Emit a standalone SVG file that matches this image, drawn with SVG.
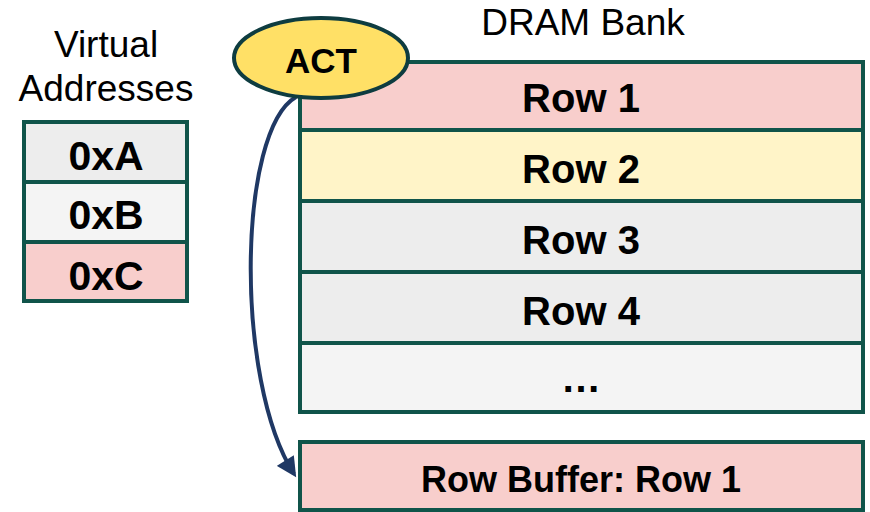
<svg xmlns="http://www.w3.org/2000/svg" width="870" height="512" viewBox="0 0 870 512">
<style>
.cell{stroke:#10544a;stroke-width:4}
.lbl{font-family:"Liberation Sans",Arial,sans-serif;font-weight:bold;font-size:40px;text-anchor:middle;fill:#000}
.ttl{font-family:"Liberation Sans",Arial,sans-serif;font-size:37px;text-anchor:middle;fill:#000}
</style>
<defs>
<marker id="ah" viewBox="0 0 10 10" refX="8" refY="5" markerWidth="5.5" markerHeight="5" orient="auto" markerUnits="strokeWidth">
<path d="M0,0 L10,5 L0,10 z" fill="#1f3864"/>
</marker>
</defs>
<rect width="870" height="512" fill="#fff"/>
<g id="va-title">
<text class="ttl" x="106" y="57">Virtual</text>
<text class="ttl" x="106" y="101">Addresses</text>
</g>
<g id="va-a"><rect class="cell" x="24" y="122" width="163" height="60" fill="#ededed"/><text class="lbl" x="106" y="170" style="font-size:41px">0xA</text></g>
<g id="va-b"><rect class="cell" x="24" y="182" width="163" height="60" fill="#f4f4f4"/><text class="lbl" x="106" y="229" style="font-size:41px">0xB</text></g>
<g id="va-c"><rect class="cell" x="24" y="242" width="163" height="59" fill="#f8cecc"/><text class="lbl" x="106" y="290" style="font-size:41px">0xC</text></g>
<g id="bank-title"><text class="ttl" x="583" y="35">DRAM Bank</text></g>
<g id="row1"><rect class="cell" x="300" y="62" width="563" height="68" fill="#f8cecc"/><text class="lbl" x="581" y="112">Row 1</text></g>
<g id="row2"><rect class="cell" x="300" y="130" width="563" height="71" fill="#fff4c8"/><text class="lbl" x="581" y="183">Row 2</text></g>
<g id="row3"><rect class="cell" x="300" y="201" width="563" height="71" fill="#ededed"/><text class="lbl" x="581" y="254">Row 3</text></g>
<g id="row4"><rect class="cell" x="300" y="272" width="563" height="71" fill="#ededed"/><text class="lbl" x="581" y="325">Row 4</text></g>
<g id="rowdots"><rect class="cell" x="300" y="343" width="563" height="69" fill="#f4f4f4"/><text class="lbl" x="581" y="392">…</text></g>
<g id="rowbuf"><rect class="cell" x="300" y="442" width="563" height="68" fill="#f8cecc"/><text class="lbl" x="581" y="492" style="font-size:36px">Row Buffer: Row 1</text></g>
<g id="connectors">
<path d="M296,97 C238,130 234,380 294,474" fill="none" stroke="#1f3864" stroke-width="4" marker-end="url(#ah)"/>
</g>
<g id="act"><ellipse cx="321" cy="58" rx="87" ry="40" fill="#ffe066" stroke="#0e3c40" stroke-width="4"/><text class="lbl" x="321" y="73" style="font-size:35px">ACT</text></g>
</svg>
